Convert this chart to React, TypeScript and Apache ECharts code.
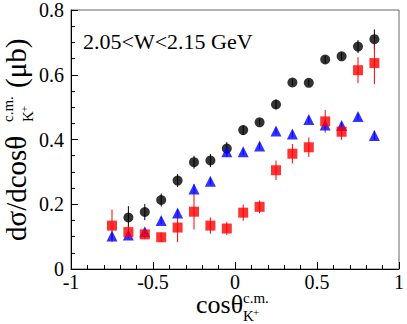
import React, { useEffect, useRef } from "react";
import * as echarts from "echarts";

const xBins = [-0.75, -0.65, -0.55, -0.45, -0.35, -0.25, -0.15, -0.05, 0.05, 0.15, 0.25, 0.35, 0.45, 0.55, 0.65, 0.75, 0.85];

const blackX = [-0.65, -0.55, -0.45, -0.35, -0.25, -0.15, -0.05, 0.05, 0.15, 0.25, 0.35, 0.45, 0.55, 0.65, 0.75, 0.85];
const blackY = [0.159, 0.176, 0.213, 0.273, 0.330, 0.335, 0.372, 0.429, 0.453, 0.508, 0.576, 0.575, 0.647, 0.657, 0.687, 0.710];
const blackErr = [0.035, 0.025, 0.02, 0.02, 0.02, 0.02, 0.02, 0.015, 0.01, 0.015, 0.01, 0.01, 0.012, 0.012, 0.02, 0.03];

const blueY = [0.102, 0.105, 0.115, 0.150, 0.173, 0.247, 0.271, 0.362, 0.362, 0.380, 0.426, 0.417, 0.462, 0.445, 0.443, 0.471, 0.412];
const blueErr = [0.01, 0.01, 0.01, 0.01, 0.01, 0.015, 0.01, 0.015, 0.01, 0.01, 0.01, 0.01, 0.01, 0.01, 0.01, 0.01, 0.015];

const redY = [0.134, 0.114, 0.107, 0.098, 0.128, 0.177, 0.134, 0.125, 0.174, 0.192, 0.305, 0.356, 0.376, 0.456, 0.424, 0.614, 0.636];
const redErr = [0.05, 0.02, 0.015, 0.015, 0.045, 0.055, 0.025, 0.02, 0.025, 0.02, 0.03, 0.03, 0.03, 0.035, 0.025, 0.04, 0.065];

const xTickLabels = ["-1", "-0.5", "0", "0.5", "1"];
const yTickLabels = ["0", "0.2", "0.4", "0.6", "0.8"];

const FONT = "Liberation Serif";

function errData(xs: number[], ys: number[], es: number[]) {
  return xs.map((x, i) => [x, ys[i] - es[i], ys[i] + es[i]]);
}

function errSeries(xs: number[], ys: number[], es: number[], color: string) {
  return {
    type: "custom",
    data: errData(xs, ys, es),
    renderItem: (params: any, api: any) => {
      const p1 = api.coord([api.value(0), api.value(1)]);
      const p2 = api.coord([api.value(0), api.value(2)]);
      return {
        type: "line",
        shape: { x1: p1[0], y1: p1[1], x2: p2[0], y2: p2[1] },
        style: { stroke: color, lineWidth: 1 },
      };
    },
    z: 2,
  };
}

function txt(text: string, x: number, y: number, size: number, lh?: number) {
  return {
    type: "text",
    x,
    y,
    style: {
      text,
      fontFamily: FONT,
      fontSize: size,
      lineHeight: lh ?? Math.round(size * 1.1),
      fill: "#000",
      verticalAlign: "middle",
    },
  };
}

export default function App() {
  const ref = useRef<HTMLDivElement>(null);
  useEffect(() => {
    const chart = echarts.init(ref.current!, null, { renderer: "svg" });
    chart.setOption({
      animation: false,
      backgroundColor: "#fff",
      grid: { left: 71, right: 5, top: 7, bottom: 55, show: true, borderColor: "#666", borderWidth: 1 },
      xAxis: {
        type: "value",
        min: -1,
        max: 1,
        interval: 0.5,
        axisLine: { onZero: false, lineStyle: { color: "#000", width: 1 } },
        axisTick: { inside: true, length: 7, lineStyle: { color: "#000" } },
        minorTick: { show: true, splitNumber: 5, length: 4, lineStyle: { color: "#000" } },
        splitLine: { show: false },
        axisLabel: {
          fontFamily: FONT,
          fontSize: 20,
          lineHeight: 17,
          color: "#000",
          margin: 4,
          formatter: (v: number) => {
            const k = String(Math.round(v * 10) / 10);
            return xTickLabels.includes(k) ? k : "";
          },
        },
      },
      yAxis: {
        type: "value",
        min: 0,
        max: 0.8,
        interval: 0.2,
        axisLine: { show: true, onZero: false, lineStyle: { color: "#000", width: 1 } },
        axisTick: { show: true, inside: true, length: 7, lineStyle: { color: "#000" } },
        minorTick: { show: true, splitNumber: 4, length: 4, lineStyle: { color: "#000" } },
        splitLine: { show: false },
        axisLabel: {
          fontFamily: FONT,
          fontSize: 20,
          lineHeight: 16,
          color: "#000",
          margin: 7,
          formatter: (v: number) => {
            const k = String(Math.round(v * 10) / 10);
            return yTickLabels.includes(k) ? k : "";
          },
        },
      },
      series: [
        errSeries(blackX, blackY, blackErr, "#000"),
        errSeries(xBins, blueY, blueErr, "#0000ff"),
        errSeries(xBins, redY, redErr, "#ff0000"),
        {
          type: "scatter",
          data: blackX.map((x, i) => [x, blackY[i]]),
          symbol: "circle",
          symbolSize: 10,
          itemStyle: { color: "#000" },
          z: 3,
        },
        {
          type: "scatter",
          data: xBins.map((x, i) => [x, blueY[i]]),
          symbol: "triangle",
          symbolSize: 11,
          itemStyle: { color: "#0000ff" },
          z: 4,
        },
        {
          type: "scatter",
          data: xBins.map((x, i) => [x, redY[i]]),
          symbol: "rect",
          symbolSize: 10,
          itemStyle: { color: "#ff0000" },
          z: 5,
        },
      ],
      graphic: [
        {
          type: "text",
          left: 83,
          top: 30,
          style: { text: "2.05<W<2.15 GeV", fontFamily: FONT, fontSize: 22, fill: "#000" },
        },
        {
          type: "group",
          x: 16,
          y: 241,
          rotation: Math.PI / 2,
          children: [
            txt("dσ/dcosθ", 0, 0, 29),
            txt("c.m.", 119, -8, 15, 12),
            txt("K", 119, 12, 15, 12),
            txt("+", 129, 8, 11, 9),
            txt("(μb)", 153, 0, 29),
          ],
        },
        {
          type: "group",
          x: 196,
          y: 304,
          children: [
            txt("cosθ", 0, 0, 26, 23),
            txt("c.m.", 47, -6, 15, 11),
            txt("K", 47, 12, 15, 12),
            txt("+", 57, 8, 11, 9),
          ],
        },
      ],
    });
    return () => chart.dispose();
  }, []);
  return <div ref={ref} style={{ width: 407, height: 324, position: "absolute", left: 0, top: 0 }} />;
}
